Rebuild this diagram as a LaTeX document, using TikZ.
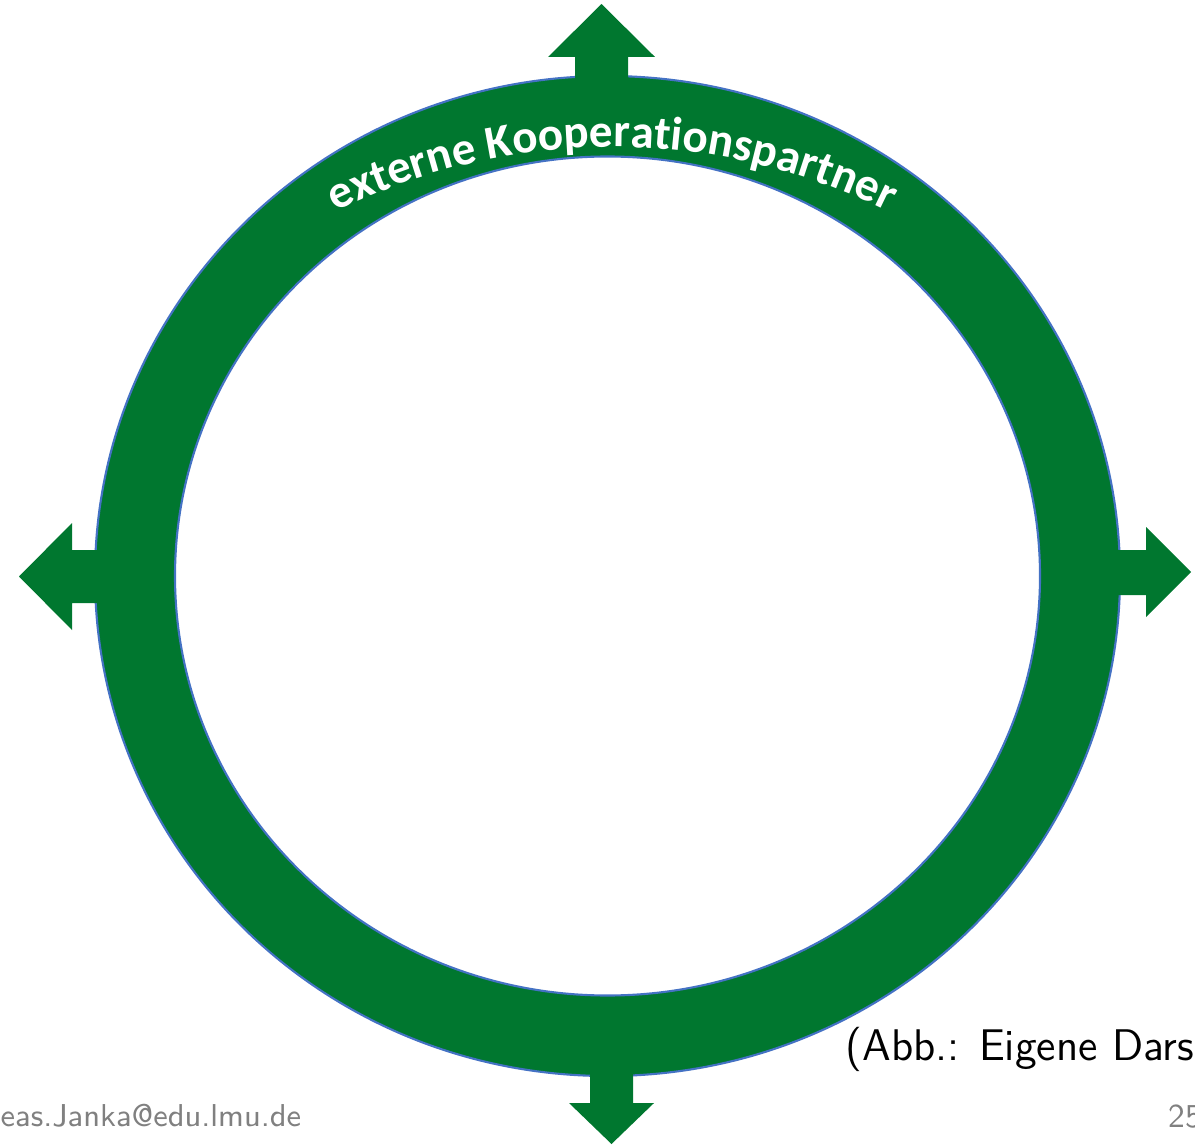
\documentclass[tikz,border=0pt]{standalone}
\usepackage{fontspec}
\usepackage{xcolor}
\usetikzlibrary{decorations.text}
\newfontfamily\carlito{Carlito}
\definecolor{ringgreen}{HTML}{00772F}
\definecolor{ringblue}{HTML}{4472C4}
\definecolor{footgray}{HTML}{808080}

\begin{document}
\begin{tikzpicture}[
  x=0.01cm, y=0.01cm,
  ring/.style={fill=ringgreen, draw=ringblue, line width=0.6pt, even odd rule},
  pfeil/.style={fill=ringgreen},
  quelle/.style={font=\sffamily\fontsize{12.6}{15}\selectfont, inner sep=0pt, anchor=base west},
  fuss/.style={text=footgray, font=\sffamily\fontsize{9}{11}\selectfont, inner sep=0pt, anchor=base west}
]
\useasboundingbox (0,0) rectangle (1195,1145);

% ==================== RING ====================
\coordinate (mitte) at (607.5,569);
\path[ring] (mitte) ellipse [x radius=512.5, y radius=500]
            (mitte) ellipse [x radius=432.5, y radius=419.5];

% ==================== ARROWS ====================
\fill[pfeil] (575,1063) -- (575,1088) -- (548,1088) -- (601.5,1141) -- (655,1088) -- (628,1088) -- (628,1063) -- cycle;
\fill[pfeil] (100,595) -- (72,595) -- (72,622) -- (19,568.5) -- (72,515) -- (72,542) -- (100,542) -- cycle;
\fill[pfeil] (1112,595) -- (1146,595) -- (1146,618) -- (1191,573) -- (1146,528) -- (1146,550) -- (1112,550) -- cycle;
\fill[pfeil] (590,75) -- (590,42) -- (569,42) -- (611.5,1) -- (654,42) -- (633,42) -- (633,75) -- cycle;

% ==================== LABELS ====================
\coordinate (bogen) at (612,378);
\path[decorate, decoration={text along path, text align=center, text color=white,
    text={|\carlito\bfseries\fontsize{13.4}{16}\selectfont|externe Kooperationspartner}}]
  (bogen) ++(150:620) arc[start angle=150, end angle=30, radius=620];

\node[quelle] (abb) at (845,85) {(Abb.: Eigene Dars};
\node[fuss] (mail) at (0,19) {eas.Janka@edu.lmu.de};
\node[fuss, font=\sffamily\fontsize{9.5}{11}\selectfont] (seite) at (1168,18) {25};

\end{tikzpicture}
\end{document}
